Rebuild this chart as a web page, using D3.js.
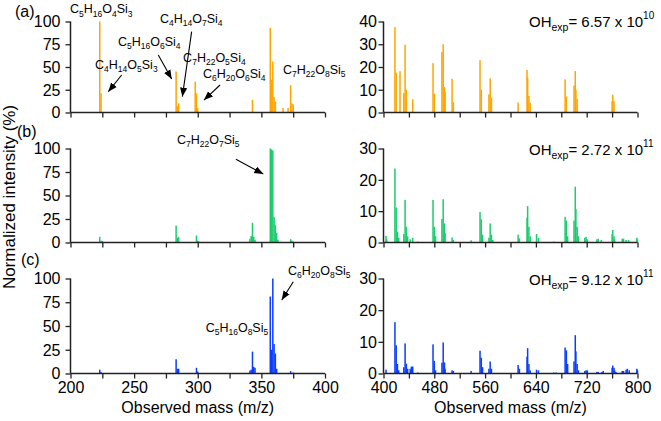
<!DOCTYPE html>
<html><head><meta charset="utf-8">
<script src="https://cdn.jsdelivr.net/npm/d3@7"></script>
<style>
body{margin:0;background:#fff}
svg{display:block}
text{font-family:"Liberation Sans",Arial,Helvetica,sans-serif;fill:#000}
</style>
</head><body>
<svg id="c" width="661" height="421"></svg>
<script>
// ---------- DATA ----------
const massLeftA = [223,224,283,284,285,298,299,300,343,357,358,359,360,361,367,371,373,374,375];
const intLeftA  = [100,21,45,7,10,34,21,5,14,93,36,56,17,12,5,5,30,10,9];

const massLeftB = [223,224,225,268,283,284,285,299,300,301,341,342,343,344,345,357,358,359,360,361,362,363,373,374,375];
const intLeftB  = [6,2,1.5,0.5,18,5,6,7.5,2,1,4,7,21,6,3,100,99,98,27,19,10,3,3.5,2,1];

const massLeftC = [223,224,268,283,284,285,299,300,341,342,343,344,345,357,358,359,360,361,362,373,375];
const intLeftC  = [4,1.5,0.5,15,5,5,6,2,3,4,23,7,6,81,25,100,31,21,5,2.5,1];

const massRightA = [418,420,426,432,434,436,446,478,480,492,494,496,497,508,510,552,554,566,568,570,612,626,627,629,631,686,688,700,702,703,705,760,761,763];
const intRightA  = [37.5,17.5,18.2,8.5,29.8,10,5.8,21.7,8.3,26.6,30,11.2,9,14.8,4.5,23,10,8,15,6.5,4.4,18.7,15.3,7.3,4.3,14.6,7,11.8,18.2,10,6,5,7.8,5];

const massRightB = [404,405,418,420,422,424,432,434,436,438,442,446,454,478,480,482,492,494,496,497,508,510,538,552,554,556,566,568,570,572,612,614,626,627,629,631,641,644,668,686,688,690,700,702,703,705,707,717,719,721,736,738,743,760,761,763,764,776,778,782,786,799,800];
const intRightB  = [2.1,1,23.6,11.2,3.5,1.5,2.7,13.6,5,2,1,1.5,0.3,13.6,5,2,7.5,13.8,6.1,3,1.6,0.8,0.7,9.7,7.4,2.5,1.5,6.1,2.5,0.8,2.5,1.3,7.9,11.6,5,2,2.7,1.5,0.3,8.2,7,2,7,17.8,10.7,5,2,1.5,1.8,1,1,1.2,0.8,2.7,4,2,1,1.2,1.2,0.8,0.8,1.5,1];

const massRightC = [404,418,420,422,424,432,434,436,438,442,444,446,454,478,480,482,492,494,496,497,508,510,538,552,554,556,566,568,570,612,614,626,627,629,631,641,644,668,672,686,688,690,700,702,703,705,707,717,719,721,736,738,744,746,760,761,763,764,766,776,778,782,784,787,799,800];
const intRightC  = [1.2,16.2,8.9,3,1,2,9.5,3.1,1.5,1.5,2.2,2.2,0.3,9.2,4,1,3.4,9.8,3.5,1.5,1,0.8,0.8,7.2,5,2,1.5,3.8,1.5,2.7,1.5,5.3,8,3,1,1.2,1,0.3,0.3,8.2,7.3,3,3.8,12.1,7,3,1,0.8,1,1,0.5,0.5,0.5,0.8,1.8,2.5,1.8,1,0.5,0.8,0.8,1.2,1.5,1,1.5,1];

const leftXTicks   = [200,225,250,275,300,325,350,375,400];
const leftXLabels  = [200,250,300,350,400];
const rightXTicks  = [400,440,480,520,560,600,640,680,720,760,800];
const rightXLabels = [400,480,560,640,720,800];
const leftYTicks   = [0,25,50,75,100];
const rightYTicksA = [0,10,20,30,40];
const rightYTicksBC= [0,10,20,30];
const panelLabels  = ["(a)","(b)","(c)"];
const ohValues     = ["6.57","2.72","9.12"];
const ohExponents  = ["10","11","11"];
const seriesColors = ["#ffa500","#1ecb6e","#0a3dff"];
const xTitle = "Observed mass (m/z)";
const yTitle = "Normalized intensity (%)";

// ---------- LAYOUT ----------
const svg = d3.select("#c");
const rows = [{y0:112.5,y1:21.5},{y0:242.5,y1:148.5},{y0:373.5,y1:278.5}];
const xL = d3.scaleLinear().domain([200,400]).range([70.5,325]);
const xR = d3.scaleLinear().domain([400,800]).range([383.5,637.5]);

const defs = svg.append("defs");
defs.append("marker").attr("id","ah").attr("viewBox","0 0 10 10").attr("refX",10).attr("refY",5)
  .attr("markerWidth",9).attr("markerHeight",9).attr("markerUnits","userSpaceOnUse").attr("orient","auto")
  .append("path").attr("d","M0,1 L10,5 L0,9 Z").attr("fill","#000");

function formula(g, str, x, y, size){
  const sub = size*0.68, shift = size*0.25;
  const t = g.append("text").attr("x",x).attr("y",y).style("font-size",size+"px");
  const parts = str.match(/[A-Za-z]+|\d+/g);
  let down = false;
  parts.forEach(p=>{
    const isNum = /\d/.test(p);
    const ts = t.append("tspan").text(p);
    if(isNum){ ts.style("font-size",sub+"px"); if(!down){ts.attr("dy",shift);down=true;} }
    else { if(down){ts.attr("dy",-shift);down=false;} }
  });
  return t;
}
function arrow(g, x1,y1,x2,y2){
  g.append("line").attr("x1",x1).attr("y1",y1).attr("x2",x2).attr("y2",y2)
   .attr("stroke","#000").attr("stroke-width",1.1).attr("marker-end","url(#ah)");
}

function panel(xs, row, yMax, yTicks, masses, values, color, showLabels, xTicks, xLabels, labelGap){
  const y = d3.scaleLinear().domain([0,yMax]).range([row.y0,row.y1]);
  const g = svg.append("g");
  g.selectAll("rect").data(masses.map((m,i)=>({m,v:values[i]}))).join("rect")
    .attr("x",d=>xs(d.m)-0.75).attr("width",1.5)
    .attr("y",d=>y(d.v)).attr("height",d=>row.y0-y(d.v))
    .attr("fill",color);
  const ya = g.append("g").attr("transform",`translate(${xs.range()[0]},0)`)
    .call(d3.axisLeft(y).tickValues(yTicks).tickSize(5).tickPadding(labelGap).tickFormat(d3.format("d")));
  ya.select(".domain").attr("stroke","#222").attr("stroke-width",1.5).attr("d",`M0,${row.y0}V${row.y1}`);
  ya.selectAll(".tick line").attr("stroke","#222").attr("stroke-width",1.3);
  ya.selectAll(".tick text").style("font-size","16px").style("font-family",null).attr("dy","0.34em");
  const xa = g.append("g").attr("transform",`translate(0,${row.y0})`)
    .call(d3.axisBottom(xs).tickValues(xTicks).tickSize(5).tickPadding(3)
      .tickFormat(d=> showLabels && xLabels.includes(d) ? d : ""));
  xa.select(".domain").attr("stroke","#222").attr("stroke-width",1.5).attr("d",`M${xs.range()[0]},0H${xs.range()[1]}`);
  xa.selectAll(".tick line").attr("stroke","#222").attr("stroke-width",1.3);
  xa.selectAll(".tick text").style("font-size","16px").style("font-family",null);
  return {g,y};
}

const leftMasses = [massLeftA,massLeftB,massLeftC], leftVals=[intLeftA,intLeftB,intLeftC];
const rightMasses = [massRightA,massRightB,massRightC], rightVals=[intRightA,intRightB,intRightC];
const P = [];
for(let i=0;i<3;i++){
  const L = panel(xL, rows[i], 100, leftYTicks, leftMasses[i], leftVals[i], seriesColors[i], i===2, leftXTicks, leftXLabels, 5);
  const R = panel(xR, rows[i], i===0?40:30, i===0?rightYTicksA:rightYTicksBC, rightMasses[i], rightVals[i], seriesColors[i], i===2, rightXTicks, rightXLabels, 1.5);
  P.push({L,R});
}

const letterX = [15,17,21], letterY = [17,137,265];
panelLabels.forEach((s,i)=> svg.append("text").attr("x",letterX[i]).attr("y",letterY[i]).style("font-size","16px").text(s));

ohValues.forEach((v,i)=>{
  const yb = rows[i].y1 + (i===0?5.5:6.5);
  const t = svg.append("text").attr("x",529).attr("y",yb).style("font-size","15px");
  t.append("tspan").text("OH");
  t.append("tspan").attr("dy",4).style("font-size","10.5px").text("exp");
  t.append("tspan").attr("dy",-4).text("= "+v+" x 10");
  t.append("tspan").attr("dy",-8).style("font-size","10px").text(ohExponents[i]);
});

svg.append("text").attr("x",(xL.range()[0]+xL.range()[1])/2).attr("y",413).attr("text-anchor","middle").style("font-size","16px").text(xTitle);
svg.append("text").attr("x",(xR.range()[0]+xR.range()[1])/2).attr("y",413).attr("text-anchor","middle").style("font-size","16px").text(xTitle);
svg.append("text").attr("transform","translate(15,197) rotate(-90)").attr("text-anchor","middle").style("font-size","17px").text(yTitle);

// annotations (placed in data coordinates)
const fs = 12.5;
const ga = svg.append("g");
const ya = P[0].L.y, yb = P[1].L.y, yc = P[2].L.y;
formula(ga,"C5H16O4Si3", xL(199.6), ya(108.8), fs);
formula(ga,"C4H14O7Si4", xL(270.3), ya(98), fs);
arrow(ga, xL(295.2), ya(88.8), xL(287.9), ya(17.4));
formula(ga,"C5H16O6Si4", xL(237.3), ya(73.1), fs);
arrow(ga, xL(269), ya(63.2), xL(279.5), ya(36.8));
formula(ga,"C4H14O5Si3", xL(219.3), ya(47.5), fs);
arrow(ga, xL(240.2), ya(41.2), xL(229.7), ya(22.9));
formula(ga,"C7H22O5Si4", xL(288.5), ya(55.5), fs);
formula(ga,"C6H20O6Si4", xL(304.1), ya(37.6), fs);
arrow(ga, xL(317.5), ya(30.2), xL(304.9), ya(13.7));
formula(ga,"C7H22O8Si5", xL(367), ya(42.3), fs);

formula(ga,"C7H22O7Si5", xL(283.7), yb(104.8), fs);
arrow(ga, xL(330), yb(88.5), xL(351.5), yb(72.9));

formula(ga,"C6H20O8Si5", xL(370.9), yc(103.7), fs);
arrow(ga, xL(375.1), yc(96.6), xL(366), yc(77.4));
formula(ga,"C5H16O8Si5", xL(306.2), yc(44), fs);
</script>
</body></html>
